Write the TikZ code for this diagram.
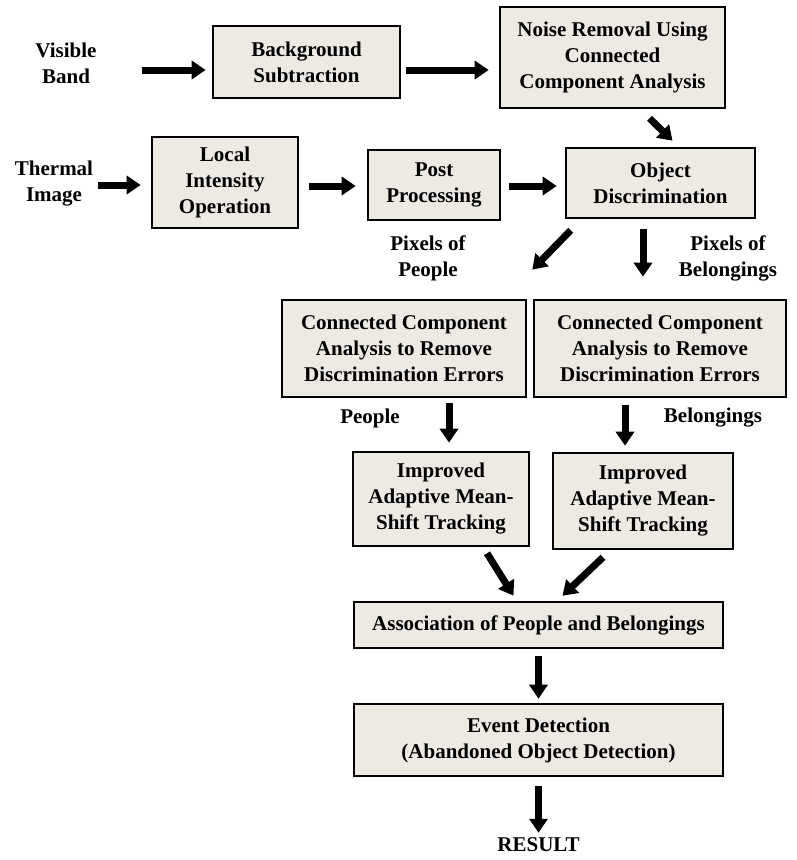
\documentclass[tikz,border=0pt]{standalone}
\usepackage{fontspec}
\setmainfont{Liberation Serif}
\usepackage{tikz}
\usetikzlibrary{arrows.meta, positioning, calc}
\definecolor{stage-fill}{HTML}{ECEAE3}

\begin{document}
\begin{tikzpicture}[
    x=1pt, y=-1pt,
    txt/.style={align=center, font=\fontsize{21}{26}\selectfont\bfseries, inner sep=2pt},
    stagebox/.style={txt, rectangle, draw=black, line width=2.6pt, fill=stage-fill},
    arrow/.style={-{Triangle[length=14pt, width=18pt]}, line width=7pt}
]
\useasboundingbox (0,0) rectangle (797,860);

% Inputs
\node[txt] (vis) at (66,63) {Visible\\Band};
\node[txt] (therm) at (54,184) {Thermal\\Image};

% First row
\node[stagebox, minimum width=187pt, minimum height=72pt] (bg) at (306.5,62) {Background\\Subtraction};
\node[stagebox, minimum width=225pt, minimum height=101pt] (noise) at (612.5,57.5) {Noise Removal Using\\Connected\\Component Analysis};

% Second row
\node[stagebox, minimum width=146pt, minimum height=91pt] (local) at (225,182.5) {Local\\Intensity\\Operation};
\node[stagebox, minimum width=132pt, minimum height=70pt] (post) at (434,185) {Post\\Processing};
\node[stagebox, minimum width=189pt, minimum height=70pt] (objd) at (660.5,183) {Object\\Discrimination};

% Branch labels
\node[txt] (pixpeople) at (428,258) {Pixels of\\People};
\node[txt] (pixbelong) at (728,258) {Pixels of\\Belongings};

% Connected component boxes
\node[stagebox, minimum width=244pt, minimum height=97pt] (ccl) at (404,348.5) {Connected Component\\Analysis to Remove\\Discrimination Errors};
\node[stagebox, minimum width=252pt, minimum height=97pt] (ccr) at (660,348.5) {Connected Component\\Analysis to Remove\\Discrimination Errors};

\node[txt] (people) at (370,418) {People};
\node[txt] (belong) at (713,418) {Belongings};

% Tracking
\node[stagebox, minimum width=176pt, minimum height=94pt] (iml) at (441,499) {Improved\\Adaptive Mean-\\Shift Tracking};
\node[stagebox, minimum width=180pt, minimum height=96pt] (imr) at (643,501) {Improved\\Adaptive Mean-\\Shift Tracking};

% Association and event
\node[stagebox, minimum width=369pt, minimum height=46pt] (assoc) at (538.5,625) {Association of People and Belongings};
\node[stagebox, minimum width=369pt, minimum height=72pt] (event) at (538.5,740) {Event Detection\\(Abandoned Object Detection)};
\node[txt] (result) at (538.5,845) {RESULT};

% Arrows
\draw[arrow] ([xshift=43pt,yshift=-7pt]vis.east) -- ([xshift=-6pt,yshift=-8pt]bg.west);
\draw[arrow] ([xshift=5pt,yshift=-8pt]bg.east) -- ([xshift=-10pt,yshift=-12.5pt]noise.west);
\draw[arrow] ([xshift=37pt,yshift=-9pt]noise.south) -- ([xshift=12pt,yshift=6pt]objd.north);
\draw[arrow] ([xshift=3pt,yshift=-1pt]therm.east) -- ([xshift=-10pt,yshift=-2.5pt]local.west);
\draw[arrow] ([xshift=10pt,yshift=-3.5pt]local.east) -- ([xshift=-11pt,yshift=-1pt]post.west);
\draw[arrow] ([xshift=8pt,yshift=-1pt]post.east) -- ([xshift=-8pt,yshift=-3pt]objd.west);
\draw[arrow] ([xshift=6pt,yshift=-11pt]objd.south west) -- ([xshift=5pt,yshift=29pt]ccl.north east);
\draw[arrow] ([xshift=-17.5pt,yshift=-10pt]objd.south) -- ([xshift=-17pt,yshift=22pt]ccr.north);
\draw[arrow] ([xshift=45pt,yshift=-5pt]ccl.south) -- ([xshift=8pt,yshift=8pt]iml.north);
\draw[arrow] ([xshift=-35pt,yshift=-7pt]ccr.south) -- ([xshift=-18pt,yshift=6pt]imr.north);
\draw[arrow] ([xshift=46pt,yshift=-6pt]iml.south) -- ([xshift=-25pt,yshift=5pt]assoc.north);
\draw[arrow] ([xshift=-40pt,yshift=-7pt]imr.south) -- ([xshift=24pt,yshift=5pt]assoc.north);
\draw[arrow] ([yshift=-7pt]assoc.south) -- ([yshift=4pt]event.north);
\draw[arrow] ([yshift=-9pt]event.south) -- ([yshift=3pt]result.north);

\end{tikzpicture}
\end{document}
